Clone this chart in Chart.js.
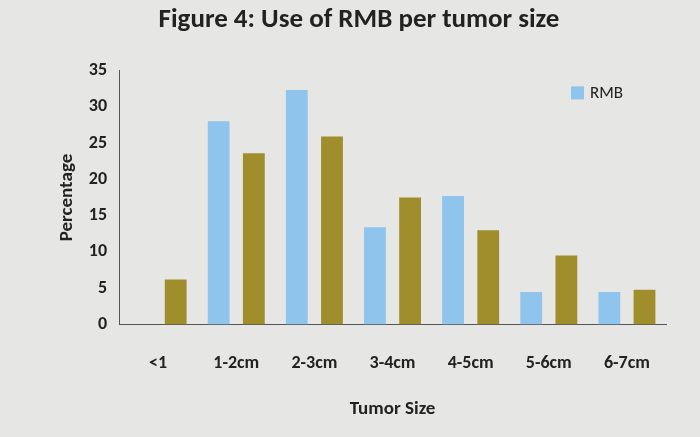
<!DOCTYPE html>
<html><head><meta charset="utf-8">
<script src="https://cdn.jsdelivr.net/npm/chart.js"></script>
<style>
html,body{margin:0;padding:0;background:#e6e6e4;}
#wrap{width:700px;height:437px;}
</style></head>
<body><div id="wrap"><canvas id="c"></canvas></div>
<script>
const categories = ['<1', '1-2cm', '2-3cm', '3-4cm', '4-5cm', '5-6cm', '6-7cm'];
const rmbValues = [0, 28, 32.3, 13.4, 17.7, 4.5, 4.5];
const otherValues = [6.2, 23.6, 25.9, 17.5, 13, 9.5, 4.8];
const yTicks = [0, 5, 10, 15, 20, 25, 30, 35];

const font = 'Calibri, Carlito, "Open Sans", sans-serif';

// legend inside the plot, top right, only first series
const insideLegend = {
    id: 'insideLegend',
    afterDraw(chart) {
        const ds = chart.data.datasets[0];
        const ctx = chart.ctx;
        const a = chart.chartArea;
        const x = a.right - 95, y = a.top + 16;
        ctx.save();
        ctx.fillStyle = ds.backgroundColor;
        ctx.fillRect(x, y, 13, 13);
        ctx.fillStyle = '#222';
        ctx.font = '17px ' + font;
        ctx.textBaseline = 'middle';
        ctx.fillText(ds.label, x + 19, y + 7);
        ctx.restore();
    }
};

new Chart(document.getElementById('c'), {
    type: 'bar',
    data: {
        labels: categories,
        datasets: [
            { label: 'RMB', data: rmbValues, backgroundColor: '#8fc4ec', barPercentage: 0.62, categoryPercentage: 0.9 },
            { label: '', data: otherValues, backgroundColor: '#a08d2c', barPercentage: 0.62, categoryPercentage: 0.9 }
        ]
    },
    plugins: [insideLegend],
    options: {
        responsive: true,
        maintainAspectRatio: false,
        animation: false,
        layout: { padding: { left: 52, right: 34, top: 4, bottom: 12 } },
        plugins: {
            title: { display: true, text: 'Figure 4: Use of RMB per tumor size', color: '#222', font: { family: font, size: 27, weight: 'bold' }, padding: { top: 0, bottom: 34 } },
            legend: { display: false },
            tooltip: { enabled: false }
        },
        scales: {
            x: {
                grid: { display: false, drawTicks: true, tickLength: 6 },
                border: { color: '#555' },
                ticks: { color: '#222', font: { family: font, size: 18, weight: 'bold' }, padding: 22 },
                title: { display: true, text: 'Tumor Size', color: '#222', font: { family: font, size: 19, weight: 'bold' }, padding: { top: 2 } }
            },
            y: {
                min: 0, max: 35,
                afterBuildTicks: axis => { axis.ticks = yTicks.map(v => ({ value: v })); },
                grid: { display: false, tickLength: 6 },
                border: { color: '#555' },
                ticks: { color: '#222', font: { family: font, size: 18, weight: 'bold' }, padding: 6 },
                title: { display: true, text: 'Percentage', color: '#222', font: { family: font, size: 19, weight: 'bold' } }
            }
        }
    }
});
</script></body></html>
